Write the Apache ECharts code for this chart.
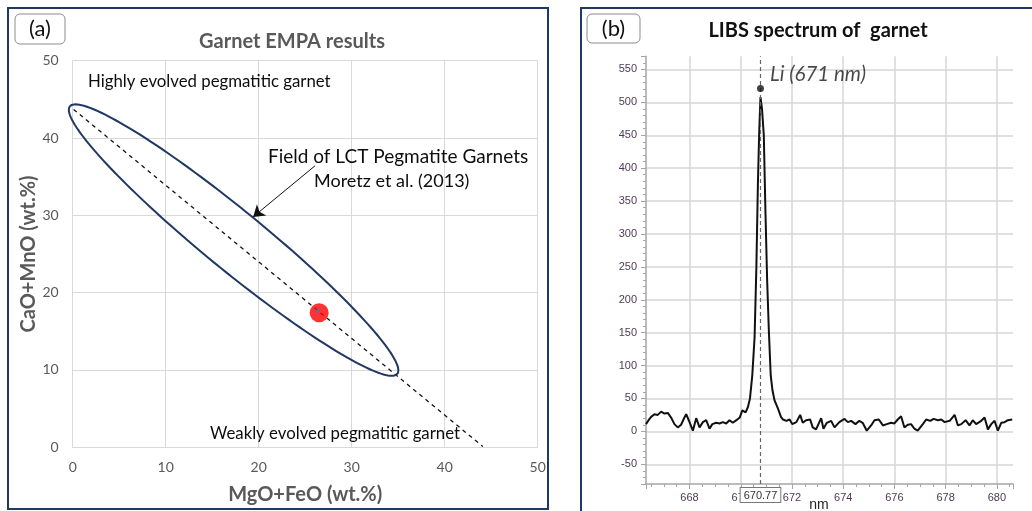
<!DOCTYPE html>
<html><head><meta charset="utf-8">
<script src="https://cdn.jsdelivr.net/npm/echarts@6/dist/echarts.min.js"></script>
<style>html,body{margin:0;padding:0;background:#fff}#chart{width:1032px;height:511px}</style>
</head><body><div id="chart"></div>
<script>
// ---------- Panel (a): Garnet EMPA results ----------
const empaTitle = 'Garnet EMPA results';
const empaXName = 'MgO+FeO (wt.%)';
const empaYName = 'CaO+MnO (wt.%)';
const empaRange = [0, 50];
const empaStep = 10;
const garnetPoint = [26.5, 17.4];      // red measured garnet
const garnetCore = [26.35, 17.66];     // small blue centre point
const trendLine = [[0.1, 43.7], [44.1, 0.1]];
const lctFieldTipA = [-0.3, 44.1];     // ellipse major-axis ends
const lctFieldTipB = [34.9, 9.5];
const lctFieldEdge = [19.3, 29.8];     // ellipse minor-axis vertex
const arrowFrom = [26.05, 36.4];
const arrowTo = [19.4, 29.8];
const empaNotes = ['Highly evolved pegmatitic garnet', 'Field of LCT Pegmatite Garnets', 'Moretz et al. (2013)', 'Weakly evolved pegmatitic garnet'];

// ---------- Panel (b): LIBS spectrum ----------
const libsTitle = 'LIBS spectrum of  garnet';
const libsXRange = [666.3, 680.63];
const libsYRange = [-80, 570];
const libsXName = 'nm';
const liPeak = [670.77, 521];
const liLabel = 'Li (671 nm)';
const liLine = 670.77;
const spectrum = [
[666.30,11],[666.40,17],[666.50,22],[666.63,26],[666.76,25],[666.89,30],[667.02,27],[667.15,28],[667.28,21],[667.41,11],
[667.54,6],[667.67,10],[667.80,21],[667.87,26],[668.00,14],[668.13,1],[668.26,20],[668.39,6],[668.52,14],[668.65,17],
[668.78,4],[668.89,11],[669.04,13],[669.17,12],[669.30,14],[669.43,12],[669.56,17],[669.69,13],[669.83,17],[669.96,21],
[670.06,32],[670.19,29],[670.28,37],[670.36,50],[670.45,85],[670.54,143],[670.61,250],[670.67,377],[670.72,455],[670.77,508],
[670.83,490],[670.90,450],[670.96,340],[671.03,230],[671.10,150],[671.17,85],[671.24,62],[671.32,47],[671.45,35],[671.57,22],
[671.65,18],[671.78,16],[671.91,18],[672.01,11],[672.17,14],[672.32,25],[672.42,13],[672.55,17],[672.71,18],[672.81,6],
[672.94,3],[673.14,20],[673.23,4],[673.36,13],[673.53,16],[673.66,6],[673.85,14],[674.05,19],[674.18,14],[674.31,16],
[674.48,11],[674.63,16],[674.76,13],[674.92,1],[675.09,9],[675.22,17],[675.39,18],[675.55,9],[675.70,11],[675.87,13],
[676.00,12],[676.13,18],[676.26,23],[676.39,6],[676.52,10],[676.65,11],[676.78,4],[676.91,1],[677.11,11],[677.24,18],
[677.40,16],[677.53,19],[677.70,17],[677.83,18],[677.96,14],[678.16,16],[678.35,25],[678.48,9],[678.61,11],[678.78,17],
[678.93,9],[679.06,17],[679.19,11],[679.39,16],[679.52,21],[679.65,3],[679.78,11],[679.91,16],[680.04,1],[680.17,13],
[680.30,14],[680.43,17],[680.60,18]
];

const NAVY = '#1f3864';
const GRAYTXT = '#595959';
const FONT_A = 'Lato, "Open Sans", sans-serif';
const FONT_B = '"Liberation Sans", "DejaVu Sans", sans-serif';
const tickColB = '#4f3a55';

const chart = echarts.init(document.getElementById('chart'), null, {renderer: 'canvas'});

function ellipseItem(params, api) {
  const a = api.coord([api.value(0), api.value(1)]);
  const b = api.coord([api.value(2), api.value(3)]);
  const c = api.coord([api.value(4), api.value(5)]);
  const cx = (a[0] + b[0]) / 2, cy = (a[1] + b[1]) / 2;
  const dx = b[0] - a[0], dy = b[1] - a[1];
  const len = Math.hypot(dx, dy), ra = len / 2;
  const ux = dx / len, uy = dy / len, vx = -uy, vy = ux;
  const rb = Math.abs((c[0] - cx) * vx + (c[1] - cy) * vy);
  const pts = [];
  for (let i = 0; i < 180; i++) {
    const t = i / 180 * 2 * Math.PI;
    pts.push([cx + ra * Math.cos(t) * ux + rb * Math.sin(t) * vx,
              cy + ra * Math.cos(t) * uy + rb * Math.sin(t) * vy]);
  }
  return {type: 'polygon', shape: {points: pts}, style: {fill: 'none', stroke: NAVY, lineWidth: 2}};
}

function noteText(x, y, text, size) {
  return {type: 'text', x: x, y: y, style: {text: text, fill: '#0d0d0d', font: size + 'px ' + FONT_A, textVerticalAlign: 'middle'}, z: 11};
}

const option = {
  animation: false,
  backgroundColor: '#fff',
  grid: [
    {left: 72.7, top: 60.7, width: 465, height: 386.6, outerBoundsMode: 'none'},
    {left: 646, top: 56.3, right: 19, bottom: 27, outerBoundsMode: 'none'}
  ],
  xAxis: [
    {
      gridIndex: 0, type: 'value', min: empaRange[0], max: empaRange[1], interval: empaStep,
      name: empaXName, nameLocation: 'middle', nameGap: 37,
      nameTextStyle: {color: GRAYTXT, fontWeight: 'bold', fontSize: 20, fontFamily: FONT_A},
      axisLine: {show: true, lineStyle: {color: '#d9d9d9', width: 1}},
      axisTick: {show: false},
      axisLabel: {color: GRAYTXT, fontSize: 14, fontFamily: FONT_A, margin: 13},
      splitLine: {show: true, lineStyle: {color: '#d9d9d9', width: 1}}
    },
    {
      gridIndex: 1, type: 'value', min: libsXRange[0], max: libsXRange[1], splitNumber: 7,
      axisLine: {show: true, onZero: false, lineStyle: {color: '#a6a6a6', width: 1.5}},
      axisTick: {show: true, length: 5, lineStyle: {color: '#a6a6a6'}},
      minorTick: {show: true, splitNumber: 4, length: 3, lineStyle: {color: '#a6a6a6'}},
      axisLabel: {color: tickColB, fontSize: 11, fontFamily: FONT_B, margin: 8, showMinLabel: false, showMaxLabel: false},
      splitLine: {show: true, showMinLine: false, showMaxLine: false, lineStyle: {color: '#d6d6d6', width: 1.5}}
    }
  ],
  yAxis: [
    {
      gridIndex: 0, type: 'value', min: empaRange[0], max: empaRange[1], interval: empaStep,
      name: empaYName, nameLocation: 'middle', nameGap: 32,
      nameTextStyle: {color: GRAYTXT, fontWeight: 'bold', fontSize: 20, fontFamily: FONT_A},
      axisLine: {show: true, lineStyle: {color: '#d9d9d9', width: 1}},
      axisTick: {show: false},
      axisLabel: {color: GRAYTXT, fontSize: 14, fontFamily: FONT_A, margin: 14},
      splitLine: {show: true, lineStyle: {color: '#d9d9d9', width: 1}}
    },
    {
      gridIndex: 1, type: 'value', min: libsYRange[0], max: libsYRange[1], splitNumber: 13,
      axisLine: {show: true, onZero: false, lineStyle: {color: '#a6a6a6', width: 1.5}},
      axisTick: {show: true, length: 5, lineStyle: {color: '#a6a6a6'}},
      minorTick: {show: true, splitNumber: 5, length: 3, lineStyle: {color: '#a6a6a6'}},
      axisLabel: {color: tickColB, fontSize: 11, fontFamily: FONT_B, margin: 9, showMinLabel: false, showMaxLabel: false},
      splitLine: {show: true, showMinLine: false, showMaxLine: false, lineStyle: {color: '#d6d6d6', width: 1.5}}
    }
  ],
  series: [
    {
      type: 'custom', xAxisIndex: 0, yAxisIndex: 0, clip: false, silent: true,
      renderItem: ellipseItem,
      data: [[lctFieldTipA[0], lctFieldTipA[1], lctFieldTipB[0], lctFieldTipB[1], lctFieldEdge[0], lctFieldEdge[1]]],
      z: 3
    },
    {
      type: 'line', xAxisIndex: 0, yAxisIndex: 0, data: trendLine, showSymbol: false, symbol: 'none',
      lineStyle: {color: '#111', width: 1.3, type: [4, 4]}, silent: true, z: 2,
      markLine: {
        silent: true, symbol: ['none', 'arrow'], symbolSize: 11,
        label: {show: false},
        lineStyle: {type: 'solid', color: '#111', width: 1},
        data: [[{coord: arrowFrom}, {coord: arrowTo}]]
      }
    },
    {
      type: 'scatter', xAxisIndex: 0, yAxisIndex: 0, data: [garnetPoint], symbolSize: 19,
      itemStyle: {color: '#ff0000'}, silent: true, z: 4
    },
    {
      type: 'scatter', xAxisIndex: 0, yAxisIndex: 0, data: [garnetCore], symbolSize: 4,
      itemStyle: {color: '#4472c4'}, silent: true, z: 5
    },
    {
      type: 'line', xAxisIndex: 1, yAxisIndex: 1, data: spectrum, showSymbol: false, symbol: 'none',
      lineStyle: {color: '#111', width: 2}, silent: true, z: 3,
      markLine: {
        silent: true, symbol: ['none', 'none'],
        lineStyle: {type: [4, 3], color: '#666', width: 1.2},
        label: {
          show: true, position: 'start', formatter: String(liLine), distance: 4,
          backgroundColor: '#fff', borderColor: '#777', borderWidth: 1, padding: [2, 3, 1, 3],
          color: '#333', fontSize: 11, fontFamily: FONT_B
        },
        data: [{xAxis: liLine}]
      }
    },
    {
      type: 'scatter', xAxisIndex: 1, yAxisIndex: 1, data: [liPeak], symbolSize: 7,
      itemStyle: {color: '#111'}, silent: true, z: 5,
      label: {show: true, position: 'right', formatter: liLabel, offset: [1, -14],
        fontStyle: 'italic', fontSize: 20.5, color: '#1a1a1a', fontFamily: FONT_A}
    }
  ],
  graphic: [
    {type: 'rect', shape: {x: 8, y: 8, width: 540, height: 501}, style: {fill: 'none', stroke: NAVY, lineWidth: 2}, z: 10},
    {type: 'rect', shape: {x: 581, y: 8, width: 480, height: 520}, style: {fill: 'none', stroke: NAVY, lineWidth: 2}, z: 10},
    {type: 'rect', shape: {x: 15, y: 14, width: 50, height: 30, r: 5}, style: {fill: '#fff', stroke: '#8c8c8c', lineWidth: 1}, z: 10},
    {type: 'text', x: 40, y: 29, style: {text: '(a)', fill: '#111', font: '22px ' + FONT_A, textAlign: 'center', textVerticalAlign: 'middle'}, z: 11},
    {type: 'rect', shape: {x: 587, y: 14, width: 53, height: 29, r: 5}, style: {fill: '#fff', stroke: '#8c8c8c', lineWidth: 1}, z: 10},
    {type: 'text', x: 613.5, y: 29, style: {text: '(b)', fill: '#111', font: '22px ' + FONT_A, textAlign: 'center', textVerticalAlign: 'middle'}, z: 11},
    {type: 'text', x: 292, y: 42, style: {text: empaTitle, fill: GRAYTXT, font: 'bold 20px ' + FONT_A, textAlign: 'center', textVerticalAlign: 'middle'}, z: 11},
    {type: 'text', x: 818, y: 31, style: {text: libsTitle, fill: '#111', font: 'bold 20px ' + FONT_A, textAlign: 'center', textVerticalAlign: 'middle'}, z: 11},
    {type: 'text', x: 819, y: 505, style: {text: libsXName, fill: '#222', font: '14px ' + FONT_B, textAlign: 'center', textVerticalAlign: 'middle'}, z: 11},
    noteText(88, 82, empaNotes[0], 16.8),
    noteText(268, 157, empaNotes[1], 19),
    noteText(314, 181, empaNotes[2], 18),
    noteText(210, 434, empaNotes[3], 16.8)
  ]
};
chart.setOption(option);
</script></body></html>
